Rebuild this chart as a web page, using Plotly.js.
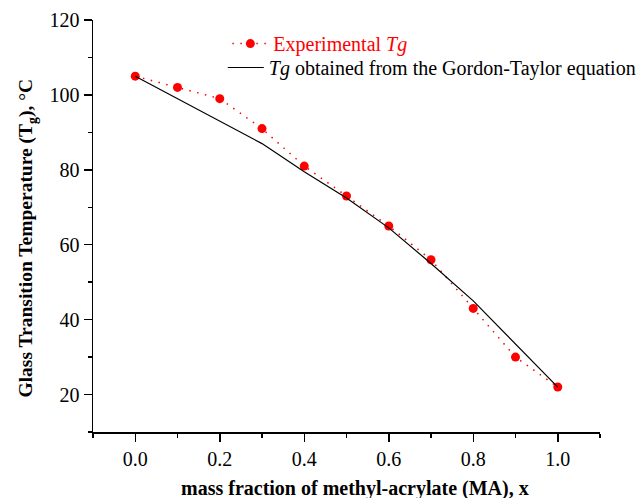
<!DOCTYPE html>
<html>
<head>
<meta charset="utf-8">
<script src="https://cdn.plot.ly/plotly-3.0.1.min.js"></script>
<style>
  html, body { margin: 0; padding: 0; background: #fff; }
  #chart { width: 644px; height: 498px; }
</style>
</head>
<body>
<div id="chart"></div>
<script>
// Mass fraction of methyl acrylate in the copolymer
const massFraction = [0.0, 0.1, 0.2, 0.3, 0.4, 0.5, 0.6, 0.7, 0.8, 0.9, 1.0];
// Measured glass transition temperatures, °C
const tgExperimental = [105, 102, 99, 91, 81, 73, 65, 56, 43, 30, 22];
// Glass transition temperatures from the Gordon-Taylor equation, °C
const tgGordonTaylor = [105, 99, 93, 87, 79.5, 72.5, 64.5, 55, 45, 33.5, 22];

const xTitle = '<b>mass fraction of methyl-acrylate (MA), x</b>';
const yTitle = '<b>Glass Transition Temperature (T<sub>g</sub>), °C</b>';

const serif = 'Liberation Serif';

const traces = [
  {
    x: massFraction,
    y: tgExperimental,
    mode: 'lines+markers',
    name: '<span style="color:#ff0000">Experimental <i>Tg</i></span>',
    line: { color: '#ff0000', width: 1.5, dash: '1.5px,6.5px' },
    marker: { color: '#ff0000', size: 9, symbol: 'circle' },
    legend: 'legend'
  },
  {
    x: massFraction,
    y: tgGordonTaylor,
    mode: 'lines',
    name: '<i>Tg</i> obtained from the Gordon-Taylor equation',
    line: { color: '#000000', width: 1.2 },
    legend: 'legend2'
  }
];

const axisCommon = {
  showline: true,
  linecolor: '#000',
  linewidth: 1.5,
  ticks: 'outside',
  ticklen: 8,
  tickwidth: 1.5,
  tickcolor: '#000',
  showgrid: false,
  zeroline: false,
  tickfont: { family: serif, size: 20, color: '#000' }
};

const legendCommon = {
  xanchor: 'left', yanchor: 'top',
  bgcolor: 'rgba(0,0,0,0)',
  font: { family: serif, size: 20, color: '#000' },
  itemwidth: 36
};

const layout = {
  width: 644,
  height: 498,
  margin: { l: 93, r: 44, t: 20, b: 66, autoexpand: false },
  paper_bgcolor: '#fff',
  plot_bgcolor: '#fff',
  font: { family: serif, size: 20, color: '#000' },
  showlegend: true,
  legend: Object.assign({}, legendCommon, { x: 0.265, y: 0.99 }),
  legend2: Object.assign({}, legendCommon, { x: 0.256, y: 0.932 }),
  xaxis: Object.assign({}, axisCommon, {
    range: [-0.1, 1.1],
    tick0: 0, dtick: 0.2,
    tickformat: '.1f',
    minor: { dtick: 0.1, ticks: 'outside', ticklen: 4, tickwidth: 1.5, tickcolor: '#000' }
  }),
  yaxis: Object.assign({}, axisCommon, {
    range: [10, 120],
    tick0: 0, dtick: 20,
    minor: { dtick: 10, ticks: 'outside', ticklen: 4, tickwidth: 1.5, tickcolor: '#000' }
  }),
  annotations: [
    {
      text: xTitle, showarrow: false,
      xref: 'paper', yref: 'paper', x: 0.5168, y: -0.136,
      xanchor: 'center', yanchor: 'middle',
      font: { family: serif, size: 20, color: '#000' }
    },
    {
      text: yTitle, showarrow: false, textangle: -90,
      xref: 'paper', yref: 'paper', x: -0.1302, y: 0.472,
      xanchor: 'center', yanchor: 'middle',
      font: { family: serif, size: 19.5, color: '#000' }
    }
  ]
};

Plotly.newPlot('chart', traces, layout, { displayModeBar: false, staticPlot: true });
</script>
</body>
</html>
